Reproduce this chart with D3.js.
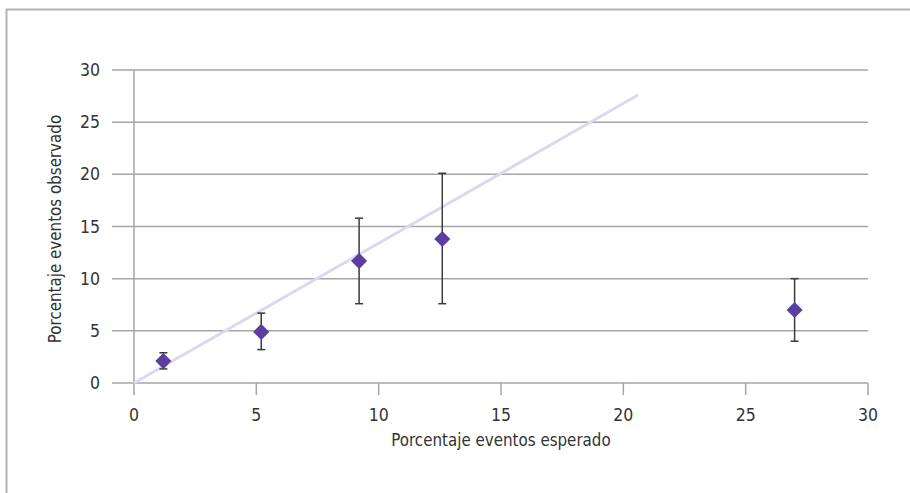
<!DOCTYPE html>
<html><head><meta charset="utf-8">
<script src="https://cdn.jsdelivr.net/npm/d3@7"></script>
<style>
body{margin:0;background:#fff;}
text{font-family:"Liberation Sans Narrow","DejaVu Sans Condensed","Roboto Condensed",sans-serif;fill:#333;}
</style></head>
<body>
<svg id="chart" width="910" height="493"></svg>
<script>
const expected = [1.2, 5.2, 9.2, 12.6, 27.0];
const observed = [2.1, 4.9, 11.7, 13.8, 7.0];
const errLow = [1.35, 3.2, 7.6, 7.6, 4.0];
const errHigh = [2.9, 6.7, 15.8, 20.1, 10.0];
const refLineX = [0, 20.6];
const refLineY = [0, 27.6];
const ticks = [0, 5, 10, 15, 20, 25, 30];
const xTitle = "Porcentaje eventos esperado";
const yTitle = "Porcentaje eventos observado";

const svg = d3.select("#chart");
const x = d3.scaleLinear().domain([0, 30]).range([134, 868]);
const y = d3.scaleLinear().domain([0, 30]).range([383, 70]);

// frame
svg.append("path").attr("d", "M6.5,493 V9.5 H910").attr("fill", "none")
  .attr("stroke", "#b3b3b3").attr("stroke-width", 2);

// gridlines
svg.append("g").selectAll("line").data(ticks).join("line")
  .attr("x1", 112).attr("x2", 868)
  .attr("y1", d => y(d)).attr("y2", d => y(d))
  .attr("stroke", "#a6a6a6").attr("stroke-width", 1.5);

// y axis line
svg.append("line").attr("x1", x(0)).attr("x2", x(0)).attr("y1", y(30)).attr("y2", 395)
  .attr("stroke", "#a6a6a6").attr("stroke-width", 1.5);

// x axis ticks
svg.append("g").selectAll("line").data(ticks.slice(1)).join("line")
  .attr("x1", d => x(d)).attr("x2", d => x(d)).attr("y1", y(0)).attr("y2", 395)
  .attr("stroke", "#a6a6a6").attr("stroke-width", 1.5);

// tick labels
svg.append("g").selectAll("text").data(ticks).join("text")
  .attr("x", 100).attr("y", d => y(d)).attr("dy", "0.35em")
  .attr("text-anchor", "end").attr("font-size", 17.5).text(d => d);
svg.append("g").selectAll("text").data(ticks).join("text")
  .attr("x", d => x(d)).attr("y", 415).attr("dy", "0.35em")
  .attr("text-anchor", "middle").attr("font-size", 17.5).text(d => d);

// titles
svg.append("text").attr("x", 501).attr("y", 440).attr("dy", "0.35em")
  .attr("text-anchor", "middle").attr("font-size", 16.8).text(xTitle);
svg.append("text").attr("transform", `translate(55,229) rotate(-90)`)
  .attr("dy", "0.35em").attr("text-anchor", "middle").attr("font-size", 16.8).text(yTitle);

// reference line
svg.append("line")
  .attr("x1", x(refLineX[0])).attr("y1", y(refLineY[0]))
  .attr("x2", x(refLineX[1])).attr("y2", y(refLineY[1]))
  .attr("stroke", "#dcd8f0").attr("stroke-width", 3);

// error bars
const pts = expected.map((e, i) => ({e, o: observed[i], lo: errLow[i], hi: errHigh[i]}));
const eb = svg.append("g").attr("stroke", "#3a3a3a").attr("stroke-width", 1.5);
eb.selectAll(".v").data(pts).join("line")
  .attr("x1", d => x(d.e)).attr("x2", d => x(d.e)).attr("y1", d => y(d.lo)).attr("y2", d => y(d.hi));
eb.selectAll(".t").data(pts).join("line")
  .attr("x1", d => x(d.e) - 4).attr("x2", d => x(d.e) + 4).attr("y1", d => y(d.hi)).attr("y2", d => y(d.hi));
eb.selectAll(".b").data(pts).join("line")
  .attr("x1", d => x(d.e) - 4).attr("x2", d => x(d.e) + 4).attr("y1", d => y(d.lo)).attr("y2", d => y(d.lo));

// diamonds
svg.append("g").selectAll("path").data(pts).join("path")
  .attr("d", d3.symbol(d3.symbolDiamond2, 165)())
  .attr("transform", d => `translate(${x(d.e)},${y(d.o)})`)
  .attr("fill", "#5a3ea0");
</script>
</body></html>
